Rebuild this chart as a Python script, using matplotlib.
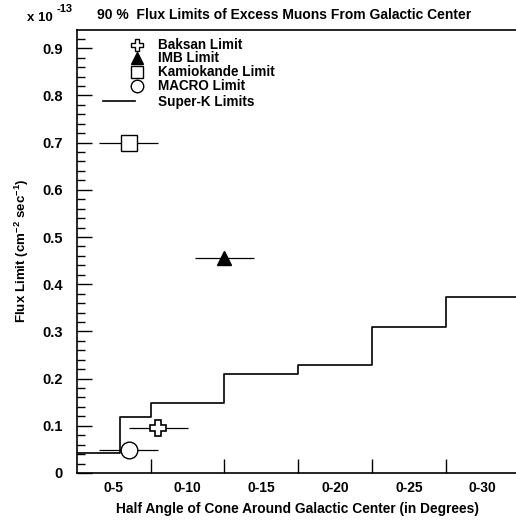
import matplotlib
matplotlib.use("Agg")
import matplotlib.pyplot as plt

plt.rcParams['font.family'] = ['Liberation Sans', 'DejaVu Sans']
plt.rcParams['font.weight'] = 'bold'
plt.rcParams['mathtext.fontset'] = 'custom'
plt.rcParams['mathtext.rm'] = 'Liberation Sans:bold'
plt.rcParams['mathtext.it'] = 'Liberation Sans:bold'
plt.rcParams['mathtext.bf'] = 'Liberation Sans:bold'
plt.rcParams['mathtext.default'] = 'rm'

# Super-K step limits (x = edges in degrees, y = flux in 1e-13 cm^-2 s^-1)
superk_edges = [2.5, 5.4, 7.5, 12.5, 17.5, 22.5, 27.5, 32.5]
superk_flux = [0.042, 0.118, 0.148, 0.209, 0.229, 0.309, 0.373]

# other experiments: (x, xerr, flux)
baksan = (8.0, 2.0, 0.095)
imb = (12.5, 2.0, 0.455)
kamiokande = (6.0, 2.0, 0.70)
macro = (6.0, 2.0, 0.048)

xtick_pos = [5, 10, 15, 20, 25, 30]
xtick_labels = ['0-5', '0-10', '0-15', '0-20', '0-25', '0-30']

fig = plt.figure(figsize=(5.16, 5.25), dpi=100)
ax = fig.add_axes([77/516, 1-473/525, 1-77/516, (473-30)/525])

ys = superk_flux + [superk_flux[-1]]
ax.step(superk_edges, ys, where='post', color='black', lw=1.2, zorder=2)

mk = dict(color='black', ecolor='black', elinewidth=0.9, capsize=0, zorder=3)
ax.errorbar(baksan[0], baksan[2], xerr=baksan[1], fmt='P', ms=12,
            mfc='white', mec='black', mew=1.2, **mk)
ax.errorbar(imb[0], imb[2], xerr=imb[1], fmt='^', ms=10,
            mfc='black', mec='black', **mk)
ax.errorbar(kamiokande[0], kamiokande[2], xerr=kamiokande[1], fmt='s', ms=11,
            mfc='white', mec='black', mew=1.0, **mk)
ax.errorbar(macro[0], macro[2], xerr=macro[1], fmt='o', ms=12,
            mfc='white', mec='black', mew=1.0, **mk)

ax.set_xlim(2.5, 2.5 + (516-77)/14.75)
ax.set_ylim(0, 0.9386)

ax.set_xticks([7.5, 12.5, 17.5, 22.5, 27.5])
ax.set_xticklabels([])
ax.set_xticks(xtick_pos, minor=True)
ax.set_xticklabels(xtick_labels, minor=True, fontsize=10, fontweight='bold')
ax.tick_params(axis='x', which='major', direction='in', length=10, width=1)
ax.tick_params(axis='x', which='minor', length=0, pad=6)

ax.set_yticks([i/10 for i in range(10)])
ax.set_yticklabels(['0'] + ['%.1f' % (i/10) for i in range(1, 10)],
                   fontsize=10.5, fontweight='bold')
ax.set_yticks([i/50 for i in range(47)], minor=True)
ax.tick_params(axis='y', which='major', direction='in', length=11, width=1, pad=10)
ax.tick_params(axis='y', which='minor', direction='in', length=6, width=1)

ax.spines['right'].set_visible(False)
for s in ['left', 'bottom', 'top']:
    ax.spines[s].set_linewidth(1.2)

# legend drawn by hand
def ax_xy(px, py):
    return (px-77)/439, (473-py)/443

leg = [('P', 'white', 9, 'Baksan Limit', 45),
       ('^', 'black', 8, 'IMB Limit', 58),
       ('s', 'white', 9, 'Kamiokande Limit', 72),
       ('o', 'white', 9, 'MACRO Limit', 86)]
for m, fc, ms, lab, py in leg:
    x, y = ax_xy(137, py)
    ax.plot([x], [y], marker=m, ms=ms, mfc=fc, mec='black', mew=1.0,
            transform=ax.transAxes, clip_on=False, ls='none')
    tx, ty = ax_xy(158, py)
    ax.text(tx, ty, lab, transform=ax.transAxes, fontsize=9.75, fontweight='bold',
            va='center', ha='left')
x0, y0 = ax_xy(103, 101)
x1, _ = ax_xy(135, 101)
ax.plot([x0, x1], [y0, y0], color='black', lw=1.2, transform=ax.transAxes)
tx, ty = ax_xy(158, 102)
ax.text(tx, ty, 'Super-K Limits', transform=ax.transAxes, fontsize=9.75,
        fontweight='bold', va='center', ha='left')

fig.text(97/516, 1-15/525, '90 %  Flux Limits of Excess Muons From Galactic Center',
         fontsize=10, fontweight='bold', ha='left', va='center')
fig.text(27/516, 1-18/525, 'x 10', fontsize=9.5, fontweight='bold', ha='left', va='center')
fig.text(57/516, 1-9/525, '-13', fontsize=8, fontweight='bold', ha='left', va='center')

fig.text(22/516, 1-251/525, r'Flux Limit (cm$^{-2}$ sec$^{-1}$)', rotation=90,
         fontsize=9.6, fontweight='bold', ha='center', va='center')
fig.text(297/516, 1-509/525, 'Half Angle of Cone Around Galactic Center (in Degrees)',
         fontsize=9.9, fontweight='bold', ha='center', va='center')

fig.savefig('out.png', dpi=100)
